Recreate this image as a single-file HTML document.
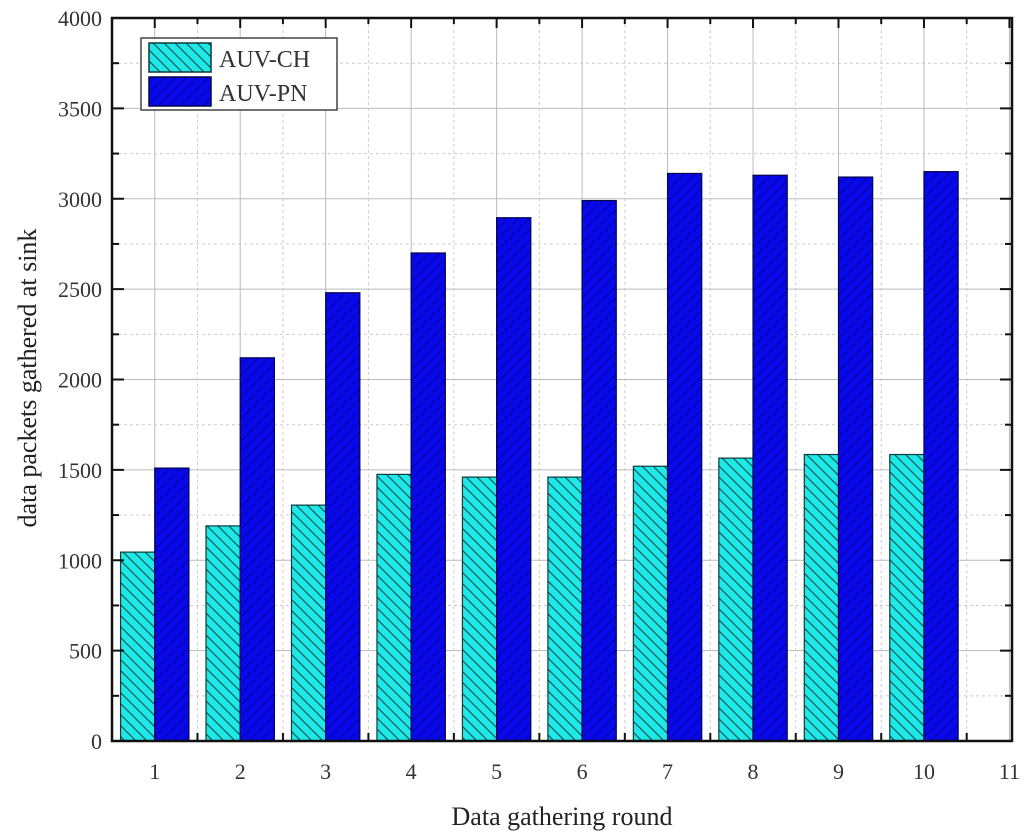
<!DOCTYPE html>
<html><head><meta charset="utf-8"><style>
html,body{margin:0;padding:0;background:#fff;}
svg{display:block;font-family:"Liberation Serif",serif;}
</style></head><body>
<svg id="chart" width="1024" height="837">
<defs>
<pattern id="hatchCH" patternUnits="userSpaceOnUse" width="11" height="11">
<rect width="11" height="11" fill="#1ee8e8"/>
<path d="M-2,-2 L13,13 M-2,9 L2,13 M9,-2 L13,2" stroke="#0b5a5a" stroke-width="1.2"/>
</pattern>
<pattern id="hatchPN" patternUnits="userSpaceOnUse" width="11" height="11">
<rect width="11" height="11" fill="#0808ea"/>
<path d="M-2,13 L13,-2 M-2,2 L2,-2 M9,13 L13,9" stroke="#0404a0" stroke-width="1"/>
</pattern>
</defs>
<g id="grid"></g>
<g id="bars"></g>
<g id="axes"></g>
<text x="562" y="825" font-size="26" text-anchor="middle" fill="#222">Data gathering round</text>
<text transform="translate(36,378) rotate(-90)" font-size="26" text-anchor="middle" fill="#222">data packets gathered at sink</text>
<g>
<rect x="141" y="38" width="196" height="72" fill="#fff" stroke="#444" stroke-width="1.5"/>
<rect x="149" y="43" width="62" height="29" fill="url(#hatchCH)" stroke="#0b3a3a" stroke-width="1.5"/>
<text x="219" y="67" font-size="24" fill="#333">AUV-CH</text>
<rect x="149" y="77" width="62" height="29" fill="url(#hatchPN)" stroke="#06064a" stroke-width="1.5"/>
<text x="219" y="101" font-size="24" fill="#333">AUV-PN</text>
</g>
</svg>
<script>
const rounds = [1,2,3,4,5,6,7,8,9,10];
const auvCH = [1045,1190,1305,1475,1460,1460,1520,1565,1585,1585];
const auvPN = [1510,2120,2480,2700,2895,2990,3140,3130,3120,3150];
const yTicks = [0,500,1000,1500,2000,2500,3000,3500,4000];
const xTicks = [1,2,3,4,5,6,7,8,9,10,11];

const L=112,R=1012,T=18,B=741;
const xMin=0.5,xMax=11.03,yMax=4000;
const xs=v=>L+(v-xMin)/(xMax-xMin)*(R-L);
const ys=v=>B-v/yMax*(B-T);
const NS='http://www.w3.org/2000/svg';
function mk(tag,attrs,parent){const e=document.createElementNS(NS,tag);for(const k in attrs)e.setAttribute(k,attrs[k]);parent.appendChild(e);return e;}
const grid=document.getElementById('grid'),bars=document.getElementById('bars'),axes=document.getElementById('axes');

for(let v=250; v<yMax; v+=250){
  const g=mk('line',{x1:L,x2:R,y1:ys(v),y2:ys(v),stroke:v%500===0?'#bbb':'#ccc','stroke-width':1,'stroke-dasharray':v%500===0?'':'3,3'},grid);
  
  
}
for(let v=1; v<=11; v+=0.5){
  const g=mk('line',{x1:xs(v),x2:xs(v),y1:T,y2:B,stroke:Number.isInteger(v)?'#bbb':'#ccc','stroke-width':1,'stroke-dasharray':Number.isInteger(v)?'':'3,3'},grid);
  
  
}
rounds.forEach((r,i)=>{
  const a=mk('rect',{x:xs(r-0.4),y:ys(auvCH[i]),width:xs(r)-xs(r-0.4),height:B-ys(auvCH[i]),fill:'url(#hatchCH)',stroke:'#0b3a3a','stroke-width':1.2},bars);
  
  
  const b=mk('rect',{x:xs(r),y:ys(auvPN[i]),width:xs(r+0.4)-xs(r),height:B-ys(auvPN[i]),fill:'url(#hatchPN)',stroke:'#06064a','stroke-width':1.2},bars);
  
  
});
const frame=mk('rect',{x:L,y:T,width:R-L,height:B-T,fill:'none',stroke:'#111','stroke-width':2.5},axes);


for(let v=0; v<=yMax; v+=250){
  const len=v%500===0?12:7;
  mk('line',{x1:L,x2:L+len,y1:ys(v),y2:ys(v),stroke:'#111','stroke-width':2},axes);
  mk('line',{x1:R,x2:R-len,y1:ys(v),y2:ys(v),stroke:'#111','stroke-width':2},axes);
}
yTicks.forEach(v=>{
  const t=mk('text',{x:L-10,y:ys(v)+8,'font-size':22,'text-anchor':'end',fill:'#333'},axes);
  t.textContent=v;
  
  
});
for(let v=1.5; v<=10.5; v+=1){
  mk('line',{x1:xs(v),x2:xs(v),y1:B,y2:B-8,stroke:'#111','stroke-width':2},axes);
}
for(let v=1; v<=11; v+=0.5){
  mk('line',{x1:xs(v),x2:xs(v),y1:T,y2:T+(Number.isInteger(v)?10:6),stroke:'#111','stroke-width':2},axes);
}
xTicks.forEach(v=>{
  const t=mk('text',{x:xs(v),y:B+38,'font-size':22,'text-anchor':'middle',fill:'#333'},axes);
  t.textContent=v;
  
  
});
</script>
</body></html>
